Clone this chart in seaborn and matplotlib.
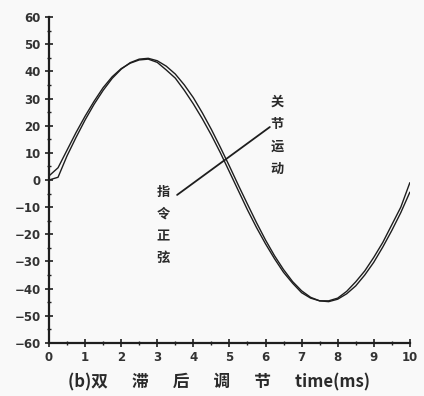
import numpy as np
import pandas as pd
import matplotlib
matplotlib.use("Agg")
import matplotlib.pyplot as plt
import seaborn as sns
from matplotlib.ticker import MultipleLocator

# time axis (ms) at 0.25 steps
time_ms = [0, 0.25, 0.5, 0.75, 1.0, 1.25, 1.5, 1.75, 2.0, 2.25, 2.5, 2.75, 3.0, 3.25,
           3.5, 3.75, 4.0, 4.25, 4.5, 4.75, 5.0, 5.25, 5.5, 5.75, 6.0, 6.25, 6.5, 6.75,
           7.0, 7.25, 7.5, 7.75, 8.0, 8.25, 8.5, 8.75, 9.0, 9.25, 9.5, 9.75, 10.0]

# joint motion (slightly leading)
joint_motion = [1.5, 4.5, 11, 17.5, 23.5, 29, 34, 38, 41, 43, 44.2, 44.5, 43.3, 40.5,
                37.5, 33, 28, 22.5, 16.5, 10, 3, -4, -11, -17.5, -23.5, -29, -34, -38,
                -41.5, -43.5, -44.5, -44.5, -43.5, -41, -37.5, -33.5, -28.5, -23, -16.5, -10, -1]

# command sine (slightly lagging)
command_sine = [0, 1.0, 8.9, 15.7, 22.1, 27.9, 33.0, 37.4, 40.8, 43.2, 44.5, 44.8, 43.9, 41.9,
                39.0, 35.0, 30.3, 24.7, 18.6, 12.0, 5.1, -2.0, -8.9, -15.7, -22.1, -27.9, -33.0, -37.4,
                -40.8, -43.2, -44.5, -44.8, -43.9, -41.9, -39.0, -35.0, -30.3, -24.7, -18.6, -12.0, -4.5]

y_ticks = list(range(-60, 61, 10))
x_ticks = list(range(0, 11))

df = pd.DataFrame({
    "t": time_ms * 2,
    "y": joint_motion + command_sine,
    "series": ["关节运动"] * len(time_ms) + ["指令正弦"] * len(time_ms),
})

sns.set_theme(style="ticks")
plt.rcParams["font.family"] = ["Noto Sans CJK SC", "DejaVu Sans"]

ink = "#1e1e1e"
fig = plt.figure(figsize=(4.24, 3.96), dpi=100)
fig.patch.set_facecolor("#f9f9f9")
ax = fig.add_axes([0.1156, 0.134, 0.851, 0.823])
ax.set_facecolor("#f9f9f9")

sns.lineplot(data=df, x="t", y="y", hue="series", palette=[ink, ink],
             linewidth=1.0, legend=False, ax=ax)

ax.set_xlim(0, 10)
ax.set_ylim(-60, 60)
ax.set_xticks(x_ticks)
ax.set_yticks(y_ticks)
ax.xaxis.set_minor_locator(MultipleLocator(0.5))
ax.yaxis.set_minor_locator(MultipleLocator(5))
ax.tick_params(which="major", direction="inout", length=6, width=1.2, colors=ink, pad=3)
ax.tick_params(which="minor", direction="inout", length=3, width=1.0, colors=ink)
for lab in ax.get_xticklabels() + ax.get_yticklabels():
    lab.set_fontweight("bold")
    lab.set_fontsize(8.5)
    lab.set_family(["DejaVu Sans"])
    lab.set_color("#333333")

sns.despine(ax=ax)
for side in ["left", "bottom"]:
    ax.spines[side].set_linewidth(1.6)
    ax.spines[side].set_color(ink)

ax.set_ylabel("")
ax.set_xlabel("(b)双\u3000  滞\u3000  后\u3000  调\u3000  节\u3000  time(ms)", fontsize=12,
              fontweight="bold", color="#2a2a2a", labelpad=4)
ax.xaxis.set_label_coords(0.47, -0.095)

# annotations
ax.text(6.32, 16.4, "关\n节\n运\n动", ha="center", va="center", fontsize=9.5,
        fontweight="bold", linespacing=1.75, color="#2a2a2a")
ax.text(3.16, -16.6, "指\n令\n正\n弦", ha="center", va="center", fontsize=9.5,
        fontweight="bold", linespacing=1.75, color="#2a2a2a")
ax.plot([3.55, 6.12], [-5.5, 19.5], color=ink, linewidth=1.3)

fig.savefig("out.png", dpi=100, facecolor=fig.get_facecolor())
